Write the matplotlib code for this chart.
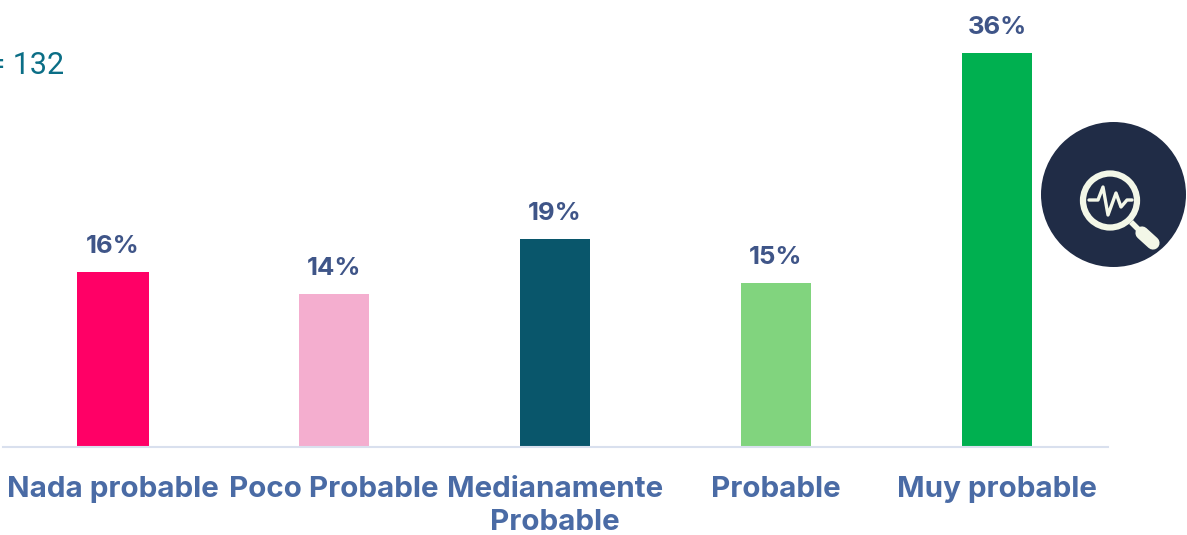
import matplotlib
matplotlib.use('Agg')
import matplotlib.pyplot as plt
from matplotlib.patches import Circle

categorias = ['Nada probable', 'Poco Probable', 'Medianamente\nProbable', 'Probable', 'Muy probable']
valores = [16, 14, 19, 15, 36]
colores = ['#FF0066', '#F4AECF', '#09566B', '#81D47E', '#00B050']
anchos = [0.325, 0.317, 0.317, 0.317, 0.317]
nota = 'n = 132'

W, H = 1187, 535
plt.rcParams['font.family'] = ['Inter', 'DejaVu Sans']
fig = plt.figure(figsize=(W / 100, H / 100), dpi=100)

# ejes en pixeles de la imagen original
ax = fig.add_axes([2.5 / W, (H - 447) / H, 1105 / W, 447 / H])
ax.set_xlim(-0.5, 4.5)
ax.set_ylim(0, 447 / 10.95)
x = range(len(valores))
ax.bar(x, valores, width=anchos, color=colores)
for i, v in zip(x, valores):
    ax.annotate(f'{v}%', (i, v), xytext=(0, 14), textcoords='offset pixels',
                ha='center', va='bottom', fontsize=18.5, fontweight='bold', color='#3F5588')
for s in ['top', 'left', 'right']:
    ax.spines[s].set_visible(False)
ax.spines['bottom'].set_color('#D9E0EE')
ax.spines['bottom'].set_linewidth(1.5)
ax.set_yticks([])
ax.set_xticks(list(x))
ax.set_xticklabels(categorias, fontsize=21.3, fontweight='bold', color='#4A6BA5', linespacing=1.3)
ax.tick_params(axis='x', length=0, pad=21)

# capa para la nota y el icono
capa = fig.add_axes([0, 0, 1, 1])
capa.set_xlim(0, W)
capa.set_ylim(H, 0)
capa.axis('off')
capa.patch.set_alpha(0)
capa.text(64, 65, nota, ha='right', va='center', fontsize=22, color='#0B6E86',
          family=['Roboto', 'DejaVu Sans'])

capa.add_patch(Circle((1113.5, 194.5), 72.5, color='#202C46', lw=0))
crema = '#F3F7E8'
capa.add_patch(Circle((1110, 200.5), 27, fill=False, ec=crema, lw=4.5))
capa.plot([1089, 1098, 1103, 1108, 1116, 1121, 1127, 1132],
          [200, 200, 187, 215, 193, 207, 200, 200],
          color=crema, lw=2.4, solid_joinstyle='round', solid_capstyle='round')
capa.plot([1131, 1142], [222, 233], color=crema, lw=4, solid_capstyle='butt')
capa.plot([1142, 1153], [233, 243], color=crema, lw=9.5, solid_capstyle='round')

fig.savefig('out.png', dpi=100)
